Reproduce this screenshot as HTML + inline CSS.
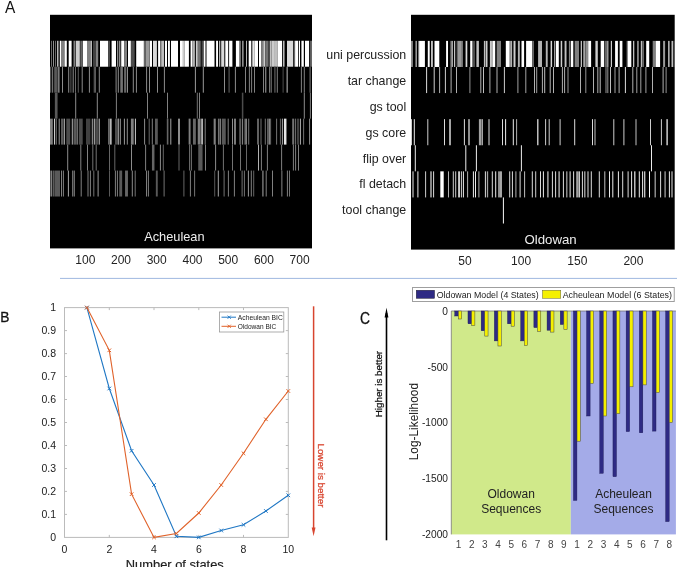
<!DOCTYPE html>
<html><head><meta charset="utf-8"><style>
html,body{margin:0;padding:0;background:#fff;width:685px;height:567px;overflow:hidden;font-family:"Liberation Sans",sans-serif;}
svg{display:block;will-change:transform;filter:blur(0.4px)}
</style></head><body>
<svg width="685" height="567" viewBox="0 0 685 567"><text x="5" y="12.8" font-size="16" font-family="Liberation Sans, sans-serif" fill="#111" textLength="10.3" lengthAdjust="spacingAndGlyphs">A</text>
<rect x="50" y="14.8" width="262" height="233.6" fill="#000"/>
<rect x="411" y="14.8" width="263.70000000000005" height="234.79999999999998" fill="#000"/>
<rect x="51.00" y="40.76" width="0.80" height="25.96" fill="rgb(128,128,128)"/>
<rect x="53.00" y="40.76" width="0.80" height="25.96" fill="rgb(178,178,178)"/>
<rect x="55.00" y="40.76" width="0.80" height="25.96" fill="rgb(128,128,128)"/>
<rect x="57.20" y="40.76" width="1.20" height="25.96" fill="rgb(230,230,230)"/>
<rect x="59.80" y="40.76" width="1.20" height="25.96" fill="rgb(255,255,255)"/>
<rect x="61.00" y="40.76" width="3.00" height="25.96" fill="rgb(128,128,128)"/>
<rect x="64.40" y="40.76" width="2.40" height="25.96" fill="rgb(255,255,255)"/>
<rect x="68.70" y="40.76" width="2.90" height="25.96" fill="rgb(255,255,255)"/>
<rect x="73.50" y="40.76" width="2.00" height="25.96" fill="rgb(128,128,128)"/>
<rect x="76.00" y="40.76" width="3.80" height="25.96" fill="rgb(204,204,204)"/>
<rect x="80.30" y="40.76" width="1.90" height="25.96" fill="rgb(102,102,102)"/>
<rect x="82.70" y="40.76" width="4.30" height="25.96" fill="rgb(255,255,255)"/>
<rect x="87.00" y="40.76" width="3.40" height="25.96" fill="rgb(128,128,128)"/>
<rect x="90.50" y="40.76" width="1.30" height="25.96" fill="rgb(230,230,230)"/>
<rect x="93.50" y="40.76" width="1.00" height="25.96" fill="rgb(128,128,128)"/>
<rect x="95.50" y="40.76" width="2.70" height="25.96" fill="rgb(128,128,128)"/>
<rect x="100.00" y="40.76" width="8.20" height="25.96" fill="rgb(255,255,255)"/>
<rect x="108.20" y="40.76" width="1.80" height="25.96" fill="rgb(76,76,76)"/>
<rect x="111.60" y="40.76" width="4.40" height="25.96" fill="rgb(255,255,255)"/>
<rect x="117.00" y="40.76" width="1.30" height="25.96" fill="rgb(140,140,140)"/>
<rect x="119.30" y="40.76" width="1.00" height="25.96" fill="rgb(204,204,204)"/>
<rect x="121.20" y="40.76" width="2.90" height="25.96" fill="rgb(255,255,255)"/>
<rect x="124.10" y="40.76" width="2.90" height="25.96" fill="rgb(128,128,128)"/>
<rect x="128.00" y="40.76" width="2.90" height="25.96" fill="rgb(255,255,255)"/>
<rect x="130.90" y="40.76" width="3.80" height="25.96" fill="rgb(76,76,76)"/>
<rect x="136.20" y="40.76" width="7.70" height="25.96" fill="rgb(255,255,255)"/>
<rect x="143.90" y="40.76" width="1.90" height="25.96" fill="rgb(102,102,102)"/>
<rect x="145.80" y="40.76" width="3.40" height="25.96" fill="rgb(153,153,153)"/>
<rect x="149.60" y="40.76" width="2.40" height="25.96" fill="rgb(255,255,255)"/>
<rect x="153.00" y="40.76" width="3.90" height="25.96" fill="rgb(217,217,217)"/>
<rect x="158.10" y="40.76" width="2.10" height="25.96" fill="rgb(255,255,255)"/>
<rect x="160.20" y="40.76" width="1.00" height="25.96" fill="rgb(128,128,128)"/>
<rect x="161.20" y="40.76" width="2.90" height="25.96" fill="rgb(191,191,191)"/>
<rect x="165.00" y="40.76" width="2.00" height="25.96" fill="rgb(255,255,255)"/>
<rect x="168.00" y="40.76" width="1.90" height="25.96" fill="rgb(255,255,255)"/>
<rect x="171.00" y="40.76" width="7.00" height="25.96" fill="rgb(255,255,255)"/>
<rect x="180.00" y="40.76" width="2.90" height="25.96" fill="rgb(255,255,255)"/>
<rect x="182.90" y="40.76" width="1.90" height="25.96" fill="rgb(204,204,204)"/>
<rect x="184.80" y="40.76" width="4.10" height="25.96" fill="rgb(255,255,255)"/>
<rect x="190.60" y="40.76" width="1.90" height="25.96" fill="rgb(255,255,255)"/>
<rect x="192.50" y="40.76" width="2.40" height="25.96" fill="rgb(178,178,178)"/>
<rect x="195.90" y="40.76" width="1.90" height="25.96" fill="rgb(204,204,204)"/>
<rect x="197.80" y="40.76" width="2.90" height="25.96" fill="rgb(115,115,115)"/>
<rect x="201.70" y="40.76" width="1.00" height="25.96" fill="rgb(102,102,102)"/>
<rect x="203.60" y="40.76" width="1.90" height="25.96" fill="rgb(255,255,255)"/>
<rect x="206.50" y="40.76" width="8.00" height="25.96" fill="rgb(255,255,255)"/>
<rect x="216.10" y="40.76" width="1.90" height="25.96" fill="rgb(255,255,255)"/>
<rect x="219.00" y="40.76" width="1.30" height="25.96" fill="rgb(178,178,178)"/>
<rect x="221.20" y="40.76" width="3.10" height="25.96" fill="rgb(217,217,217)"/>
<rect x="225.30" y="40.76" width="2.90" height="25.96" fill="rgb(255,255,255)"/>
<rect x="229.10" y="40.76" width="2.90" height="25.96" fill="rgb(255,255,255)"/>
<rect x="232.00" y="40.76" width="0.80" height="25.96" fill="rgb(128,128,128)"/>
<rect x="235.90" y="40.76" width="3.30" height="25.96" fill="rgb(255,255,255)"/>
<rect x="239.20" y="40.76" width="1.50" height="25.96" fill="rgb(153,153,153)"/>
<rect x="242.10" y="40.76" width="1.50" height="25.96" fill="rgb(153,153,153)"/>
<rect x="246.00" y="40.76" width="1.00" height="25.96" fill="rgb(178,178,178)"/>
<rect x="248.70" y="40.76" width="2.60" height="25.96" fill="rgb(255,255,255)"/>
<rect x="252.30" y="40.76" width="2.40" height="25.96" fill="rgb(230,230,230)"/>
<rect x="254.70" y="40.76" width="3.30" height="25.96" fill="rgb(255,255,255)"/>
<rect x="259.00" y="40.76" width="2.40" height="25.96" fill="rgb(255,255,255)"/>
<rect x="261.40" y="40.76" width="1.90" height="25.96" fill="rgb(128,128,128)"/>
<rect x="263.30" y="40.76" width="2.00" height="25.96" fill="rgb(204,204,204)"/>
<rect x="265.30" y="40.76" width="3.30" height="25.96" fill="rgb(115,115,115)"/>
<rect x="269.60" y="40.76" width="1.90" height="25.96" fill="rgb(191,191,191)"/>
<rect x="271.50" y="40.76" width="3.40" height="25.96" fill="rgb(204,204,204)"/>
<rect x="274.90" y="40.76" width="2.90" height="25.96" fill="rgb(191,191,191)"/>
<rect x="277.80" y="40.76" width="4.30" height="25.96" fill="rgb(255,255,255)"/>
<rect x="283.10" y="40.76" width="1.40" height="25.96" fill="rgb(204,204,204)"/>
<rect x="287.00" y="40.76" width="6.20" height="25.96" fill="rgb(217,217,217)"/>
<rect x="294.20" y="40.76" width="0.90" height="25.96" fill="rgb(128,128,128)"/>
<rect x="295.10" y="40.76" width="2.90" height="25.96" fill="rgb(255,255,255)"/>
<rect x="298.80" y="40.76" width="1.20" height="25.96" fill="rgb(255,255,255)"/>
<rect x="301.40" y="40.76" width="2.40" height="25.96" fill="rgb(255,255,255)"/>
<rect x="305.00" y="40.76" width="4.10" height="25.96" fill="rgb(255,255,255)"/>
<rect x="310.10" y="40.76" width="1.90" height="25.96" fill="rgb(102,102,102)"/>
<rect x="50.00" y="66.72" width="0.60" height="25.96" fill="rgb(140,140,140)"/>
<rect x="51.80" y="66.72" width="1.00" height="25.96" fill="rgb(140,140,140)"/>
<rect x="53.80" y="66.72" width="1.00" height="25.96" fill="rgb(89,89,89)"/>
<rect x="55.00" y="66.72" width="1.00" height="25.96" fill="rgb(89,89,89)"/>
<rect x="56.40" y="66.72" width="1.00" height="25.96" fill="rgb(140,140,140)"/>
<rect x="58.05" y="66.72" width="1.50" height="25.96" fill="rgb(128,128,128)"/>
<rect x="62.00" y="66.72" width="1.00" height="25.96" fill="rgb(140,140,140)"/>
<rect x="68.20" y="66.72" width="1.00" height="25.96" fill="rgb(140,140,140)"/>
<rect x="70.40" y="66.72" width="1.00" height="25.96" fill="rgb(89,89,89)"/>
<rect x="72.70" y="66.72" width="1.00" height="25.96" fill="rgb(140,140,140)"/>
<rect x="75.00" y="66.72" width="1.00" height="25.96" fill="rgb(102,102,102)"/>
<rect x="77.80" y="66.72" width="1.00" height="25.96" fill="rgb(89,89,89)"/>
<rect x="81.70" y="66.72" width="1.00" height="25.96" fill="rgb(140,140,140)"/>
<rect x="88.90" y="66.72" width="1.00" height="25.96" fill="rgb(140,140,140)"/>
<rect x="93.70" y="66.72" width="1.00" height="25.96" fill="rgb(89,89,89)"/>
<rect x="94.70" y="66.72" width="1.00" height="25.96" fill="rgb(128,128,128)"/>
<rect x="98.80" y="66.72" width="1.00" height="25.96" fill="rgb(140,140,140)"/>
<rect x="115.60" y="66.72" width="1.00" height="25.96" fill="rgb(140,140,140)"/>
<rect x="117.80" y="66.72" width="1.00" height="25.96" fill="rgb(140,140,140)"/>
<rect x="120.30" y="66.72" width="2.60" height="25.96" fill="rgb(115,115,115)"/>
<rect x="124.10" y="66.72" width="2.20" height="25.96" fill="rgb(102,102,102)"/>
<rect x="127.00" y="66.72" width="1.00" height="25.96" fill="rgb(140,140,140)"/>
<rect x="132.80" y="66.72" width="1.00" height="25.96" fill="rgb(140,140,140)"/>
<rect x="135.90" y="66.72" width="1.00" height="25.96" fill="rgb(140,140,140)"/>
<rect x="146.10" y="66.72" width="1.00" height="25.96" fill="rgb(140,140,140)"/>
<rect x="149.00" y="66.72" width="1.00" height="25.96" fill="rgb(140,140,140)"/>
<rect x="157.00" y="66.72" width="1.00" height="25.96" fill="rgb(140,140,140)"/>
<rect x="163.90" y="66.72" width="1.00" height="25.96" fill="rgb(140,140,140)"/>
<rect x="194.90" y="66.72" width="1.00" height="25.96" fill="rgb(153,153,153)"/>
<rect x="202.80" y="66.72" width="1.00" height="25.96" fill="rgb(153,153,153)"/>
<rect x="224.00" y="66.72" width="1.00" height="25.96" fill="rgb(140,140,140)"/>
<rect x="228.45" y="66.72" width="1.30" height="25.96" fill="rgb(76,76,76)"/>
<rect x="234.90" y="66.72" width="1.00" height="25.96" fill="rgb(140,140,140)"/>
<rect x="245.00" y="66.72" width="1.00" height="25.96" fill="rgb(128,128,128)"/>
<rect x="248.90" y="66.72" width="1.00" height="25.96" fill="rgb(128,128,128)"/>
<rect x="251.10" y="66.72" width="1.00" height="25.96" fill="rgb(128,128,128)"/>
<rect x="254.00" y="66.72" width="1.00" height="25.96" fill="rgb(128,128,128)"/>
<rect x="263.00" y="66.72" width="1.00" height="25.96" fill="rgb(128,128,128)"/>
<rect x="265.05" y="66.72" width="1.30" height="25.96" fill="rgb(128,128,128)"/>
<rect x="269.10" y="66.72" width="1.00" height="25.96" fill="rgb(128,128,128)"/>
<rect x="270.70" y="66.72" width="1.00" height="25.96" fill="rgb(128,128,128)"/>
<rect x="274.15" y="66.72" width="1.50" height="25.96" fill="rgb(76,76,76)"/>
<rect x="276.80" y="66.72" width="1.00" height="25.96" fill="rgb(128,128,128)"/>
<rect x="282.60" y="66.72" width="1.00" height="25.96" fill="rgb(76,76,76)"/>
<rect x="286.45" y="66.72" width="1.50" height="25.96" fill="rgb(128,128,128)"/>
<rect x="300.90" y="66.72" width="1.00" height="25.96" fill="rgb(128,128,128)"/>
<rect x="303.80" y="66.72" width="1.00" height="25.96" fill="rgb(128,128,128)"/>
<rect x="309.60" y="66.72" width="1.00" height="25.96" fill="rgb(128,128,128)"/>
<rect x="54.85" y="92.68" width="2.70" height="25.96" fill="rgb(89,89,89)"/>
<rect x="75.20" y="92.68" width="1.00" height="25.96" fill="rgb(140,140,140)"/>
<rect x="96.80" y="92.68" width="1.00" height="25.96" fill="rgb(140,140,140)"/>
<rect x="115.90" y="92.68" width="1.00" height="25.96" fill="rgb(128,128,128)"/>
<rect x="147.00" y="92.68" width="1.00" height="25.96" fill="rgb(128,128,128)"/>
<rect x="167.00" y="92.68" width="1.00" height="25.96" fill="rgb(128,128,128)"/>
<rect x="196.80" y="92.68" width="1.00" height="25.96" fill="rgb(115,115,115)"/>
<rect x="199.00" y="92.68" width="1.00" height="25.96" fill="rgb(128,128,128)"/>
<rect x="241.85" y="92.68" width="1.50" height="25.96" fill="rgb(76,76,76)"/>
<rect x="303.80" y="92.68" width="1.00" height="25.96" fill="rgb(140,140,140)"/>
<rect x="309.90" y="92.68" width="1.00" height="25.96" fill="rgb(128,128,128)"/>
<rect x="50.00" y="118.64" width="2.80" height="25.96" fill="rgb(128,128,128)"/>
<rect x="54.00" y="118.64" width="1.00" height="25.96" fill="rgb(204,204,204)"/>
<rect x="55.70" y="118.64" width="1.00" height="25.96" fill="rgb(128,128,128)"/>
<rect x="58.70" y="118.64" width="1.00" height="25.96" fill="rgb(153,153,153)"/>
<rect x="61.00" y="118.64" width="2.40" height="25.96" fill="rgb(89,89,89)"/>
<rect x="63.80" y="118.64" width="1.00" height="25.96" fill="rgb(191,191,191)"/>
<rect x="66.30" y="118.64" width="3.90" height="25.96" fill="rgb(76,76,76)"/>
<rect x="71.80" y="118.64" width="1.00" height="25.96" fill="rgb(178,178,178)"/>
<rect x="73.50" y="118.64" width="2.50" height="25.96" fill="rgb(89,89,89)"/>
<rect x="76.60" y="118.64" width="1.00" height="25.96" fill="rgb(178,178,178)"/>
<rect x="78.80" y="118.64" width="3.90" height="25.96" fill="rgb(76,76,76)"/>
<rect x="86.00" y="118.64" width="4.40" height="25.96" fill="rgb(64,64,64)"/>
<rect x="91.80" y="118.64" width="1.00" height="25.96" fill="rgb(166,166,166)"/>
<rect x="93.80" y="118.64" width="1.00" height="25.96" fill="rgb(191,191,191)"/>
<rect x="95.20" y="118.64" width="2.90" height="25.96" fill="rgb(76,76,76)"/>
<rect x="98.60" y="118.64" width="1.40" height="25.96" fill="rgb(140,140,140)"/>
<rect x="108.20" y="118.64" width="1.50" height="25.96" fill="rgb(128,128,128)"/>
<rect x="110.10" y="118.64" width="1.50" height="25.96" fill="rgb(204,204,204)"/>
<rect x="115.00" y="118.64" width="3.80" height="25.96" fill="rgb(76,76,76)"/>
<rect x="118.00" y="118.64" width="1.00" height="25.96" fill="rgb(140,140,140)"/>
<rect x="119.80" y="118.64" width="1.00" height="25.96" fill="rgb(153,153,153)"/>
<rect x="123.90" y="118.64" width="1.00" height="25.96" fill="rgb(153,153,153)"/>
<rect x="126.80" y="118.64" width="1.00" height="25.96" fill="rgb(140,140,140)"/>
<rect x="130.90" y="118.64" width="2.80" height="25.96" fill="rgb(128,128,128)"/>
<rect x="134.90" y="118.64" width="1.00" height="25.96" fill="rgb(204,204,204)"/>
<rect x="144.10" y="118.64" width="1.00" height="25.96" fill="rgb(140,140,140)"/>
<rect x="148.70" y="118.64" width="1.00" height="25.96" fill="rgb(102,102,102)"/>
<rect x="151.80" y="118.64" width="1.00" height="25.96" fill="rgb(128,128,128)"/>
<rect x="155.00" y="118.64" width="2.80" height="25.96" fill="rgb(89,89,89)"/>
<rect x="166.80" y="118.64" width="1.60" height="25.96" fill="rgb(102,102,102)"/>
<rect x="170.30" y="118.64" width="1.00" height="25.96" fill="rgb(166,166,166)"/>
<rect x="178.00" y="118.64" width="2.00" height="25.96" fill="rgb(140,140,140)"/>
<rect x="188.65" y="118.64" width="1.90" height="25.96" fill="rgb(128,128,128)"/>
<rect x="192.95" y="118.64" width="2.90" height="25.96" fill="rgb(102,102,102)"/>
<rect x="197.75" y="118.64" width="2.90" height="25.96" fill="rgb(128,128,128)"/>
<rect x="201.15" y="118.64" width="1.90" height="25.96" fill="rgb(178,178,178)"/>
<rect x="204.70" y="118.64" width="1.00" height="25.96" fill="rgb(128,128,128)"/>
<rect x="213.65" y="118.64" width="2.10" height="25.96" fill="rgb(128,128,128)"/>
<rect x="217.95" y="118.64" width="1.50" height="25.96" fill="rgb(115,115,115)"/>
<rect x="219.80" y="118.64" width="1.00" height="25.96" fill="rgb(153,153,153)"/>
<rect x="221.85" y="118.64" width="3.90" height="25.96" fill="rgb(89,89,89)"/>
<rect x="227.70" y="118.64" width="1.00" height="25.96" fill="rgb(128,128,128)"/>
<rect x="232.00" y="118.64" width="1.00" height="25.96" fill="rgb(140,140,140)"/>
<rect x="234.05" y="118.64" width="1.90" height="25.96" fill="rgb(128,128,128)"/>
<rect x="239.20" y="118.64" width="2.00" height="25.96" fill="rgb(89,89,89)"/>
<rect x="242.10" y="118.64" width="1.00" height="25.96" fill="rgb(140,140,140)"/>
<rect x="244.45" y="118.64" width="1.50" height="25.96" fill="rgb(115,115,115)"/>
<rect x="246.00" y="118.64" width="1.00" height="25.96" fill="rgb(128,128,128)"/>
<rect x="248.20" y="118.64" width="1.00" height="25.96" fill="rgb(115,115,115)"/>
<rect x="257.05" y="118.64" width="1.90" height="25.96" fill="rgb(102,102,102)"/>
<rect x="260.50" y="118.64" width="1.00" height="25.96" fill="rgb(115,115,115)"/>
<rect x="264.80" y="118.64" width="1.00" height="25.96" fill="rgb(115,115,115)"/>
<rect x="267.20" y="118.64" width="1.40" height="25.96" fill="rgb(115,115,115)"/>
<rect x="268.80" y="118.64" width="1.00" height="25.96" fill="rgb(166,166,166)"/>
<rect x="270.10" y="118.64" width="1.00" height="25.96" fill="rgb(102,102,102)"/>
<rect x="276.10" y="118.64" width="1.00" height="25.96" fill="rgb(115,115,115)"/>
<rect x="279.90" y="118.64" width="1.00" height="25.96" fill="rgb(102,102,102)"/>
<rect x="281.90" y="118.64" width="1.00" height="25.96" fill="rgb(166,166,166)"/>
<rect x="283.95" y="118.64" width="2.50" height="25.96" fill="rgb(230,230,230)"/>
<rect x="292.20" y="118.64" width="2.00" height="25.96" fill="rgb(115,115,115)"/>
<rect x="295.10" y="118.64" width="1.00" height="25.96" fill="rgb(115,115,115)"/>
<rect x="297.50" y="118.64" width="1.00" height="25.96" fill="rgb(128,128,128)"/>
<rect x="299.90" y="118.64" width="1.00" height="25.96" fill="rgb(178,178,178)"/>
<rect x="303.10" y="118.64" width="1.00" height="25.96" fill="rgb(115,115,115)"/>
<rect x="309.10" y="118.64" width="1.00" height="25.96" fill="rgb(140,140,140)"/>
<rect x="67.20" y="144.60" width="1.00" height="25.96" fill="rgb(140,140,140)"/>
<rect x="80.30" y="144.60" width="1.00" height="25.96" fill="rgb(128,128,128)"/>
<rect x="87.00" y="144.60" width="1.00" height="25.96" fill="rgb(128,128,128)"/>
<rect x="92.30" y="144.60" width="1.00" height="25.96" fill="rgb(115,115,115)"/>
<rect x="95.70" y="144.60" width="1.00" height="25.96" fill="rgb(115,115,115)"/>
<rect x="109.00" y="144.60" width="1.00" height="25.96" fill="rgb(102,102,102)"/>
<rect x="114.30" y="144.60" width="1.00" height="25.96" fill="rgb(102,102,102)"/>
<rect x="131.00" y="144.60" width="1.00" height="25.96" fill="rgb(140,140,140)"/>
<rect x="145.10" y="144.60" width="1.00" height="25.96" fill="rgb(128,128,128)"/>
<rect x="151.95" y="144.60" width="2.50" height="25.96" fill="rgb(102,102,102)"/>
<rect x="159.90" y="144.60" width="1.00" height="25.96" fill="rgb(140,140,140)"/>
<rect x="162.80" y="144.60" width="1.00" height="25.96" fill="rgb(102,102,102)"/>
<rect x="178.50" y="144.60" width="1.00" height="25.96" fill="rgb(102,102,102)"/>
<rect x="189.10" y="144.60" width="1.00" height="25.96" fill="rgb(115,115,115)"/>
<rect x="190.90" y="144.60" width="1.00" height="25.96" fill="rgb(115,115,115)"/>
<rect x="198.25" y="144.60" width="4.30" height="25.96" fill="rgb(89,89,89)"/>
<rect x="205.00" y="144.60" width="1.00" height="25.96" fill="rgb(128,128,128)"/>
<rect x="215.10" y="144.60" width="1.00" height="25.96" fill="rgb(140,140,140)"/>
<rect x="222.90" y="144.60" width="1.00" height="25.96" fill="rgb(115,115,115)"/>
<rect x="232.00" y="144.60" width="1.00" height="25.96" fill="rgb(115,115,115)"/>
<rect x="240.00" y="144.60" width="1.00" height="25.96" fill="rgb(115,115,115)"/>
<rect x="246.00" y="144.60" width="1.00" height="25.96" fill="rgb(102,102,102)"/>
<rect x="258.00" y="144.60" width="1.00" height="25.96" fill="rgb(178,178,178)"/>
<rect x="260.90" y="144.60" width="1.00" height="25.96" fill="rgb(128,128,128)"/>
<rect x="266.90" y="144.60" width="1.00" height="25.96" fill="rgb(128,128,128)"/>
<rect x="281.10" y="144.60" width="1.00" height="25.96" fill="rgb(128,128,128)"/>
<rect x="292.90" y="144.60" width="1.00" height="25.96" fill="rgb(128,128,128)"/>
<rect x="295.10" y="144.60" width="1.00" height="25.96" fill="rgb(128,128,128)"/>
<rect x="298.00" y="144.60" width="1.00" height="25.96" fill="rgb(128,128,128)"/>
<rect x="50.40" y="170.56" width="1.90" height="25.96" fill="rgb(128,128,128)"/>
<rect x="54.70" y="170.56" width="5.30" height="25.96" fill="rgb(89,89,89)"/>
<rect x="53.30" y="170.56" width="1.00" height="25.96" fill="rgb(128,128,128)"/>
<rect x="61.00" y="170.56" width="1.00" height="25.96" fill="rgb(128,128,128)"/>
<rect x="62.90" y="170.56" width="1.00" height="25.96" fill="rgb(128,128,128)"/>
<rect x="67.90" y="170.56" width="1.00" height="25.96" fill="rgb(166,166,166)"/>
<rect x="72.05" y="170.56" width="1.10" height="25.96" fill="rgb(115,115,115)"/>
<rect x="73.70" y="170.56" width="1.00" height="25.96" fill="rgb(153,153,153)"/>
<rect x="80.70" y="170.56" width="1.00" height="25.96" fill="rgb(128,128,128)"/>
<rect x="87.50" y="170.56" width="1.00" height="25.96" fill="rgb(128,128,128)"/>
<rect x="89.90" y="170.56" width="1.00" height="25.96" fill="rgb(128,128,128)"/>
<rect x="93.30" y="170.56" width="1.00" height="25.96" fill="rgb(115,115,115)"/>
<rect x="97.60" y="170.56" width="1.00" height="25.96" fill="rgb(153,153,153)"/>
<rect x="109.00" y="170.56" width="1.00" height="25.96" fill="rgb(89,89,89)"/>
<rect x="114.90" y="170.56" width="1.00" height="25.96" fill="rgb(128,128,128)"/>
<rect x="116.90" y="170.56" width="1.00" height="25.96" fill="rgb(128,128,128)"/>
<rect x="119.25" y="170.56" width="2.90" height="25.96" fill="rgb(89,89,89)"/>
<rect x="125.05" y="170.56" width="2.90" height="25.96" fill="rgb(102,102,102)"/>
<rect x="131.80" y="170.56" width="1.00" height="25.96" fill="rgb(140,140,140)"/>
<rect x="134.70" y="170.56" width="1.00" height="25.96" fill="rgb(115,115,115)"/>
<rect x="146.10" y="170.56" width="1.00" height="25.96" fill="rgb(140,140,140)"/>
<rect x="148.00" y="170.56" width="1.00" height="25.96" fill="rgb(115,115,115)"/>
<rect x="155.85" y="170.56" width="1.90" height="25.96" fill="rgb(89,89,89)"/>
<rect x="163.60" y="170.56" width="1.00" height="25.96" fill="rgb(115,115,115)"/>
<rect x="183.40" y="170.56" width="1.00" height="25.96" fill="rgb(102,102,102)"/>
<rect x="189.90" y="170.56" width="1.00" height="25.96" fill="rgb(128,128,128)"/>
<rect x="194.10" y="170.56" width="1.00" height="25.96" fill="rgb(115,115,115)"/>
<rect x="214.20" y="170.56" width="1.00" height="25.96" fill="rgb(89,89,89)"/>
<rect x="217.80" y="170.56" width="1.00" height="25.96" fill="rgb(166,166,166)"/>
<rect x="223.60" y="170.56" width="1.00" height="25.96" fill="rgb(115,115,115)"/>
<rect x="227.90" y="170.56" width="1.00" height="25.96" fill="rgb(128,128,128)"/>
<rect x="233.90" y="170.56" width="1.00" height="25.96" fill="rgb(128,128,128)"/>
<rect x="241.60" y="170.56" width="1.00" height="25.96" fill="rgb(115,115,115)"/>
<rect x="243.90" y="170.56" width="1.00" height="25.96" fill="rgb(115,115,115)"/>
<rect x="247.90" y="170.56" width="1.00" height="25.96" fill="rgb(153,153,153)"/>
<rect x="250.80" y="170.56" width="1.00" height="25.96" fill="rgb(128,128,128)"/>
<rect x="253.20" y="170.56" width="1.00" height="25.96" fill="rgb(102,102,102)"/>
<rect x="262.15" y="170.56" width="1.50" height="25.96" fill="rgb(115,115,115)"/>
<rect x="265.70" y="170.56" width="1.00" height="25.96" fill="rgb(128,128,128)"/>
<rect x="272.00" y="170.56" width="1.00" height="25.96" fill="rgb(128,128,128)"/>
<rect x="281.05" y="170.56" width="1.50" height="25.96" fill="rgb(89,89,89)"/>
<rect x="286.90" y="170.56" width="1.00" height="25.96" fill="rgb(128,128,128)"/>
<rect x="289.00" y="170.56" width="1.00" height="25.96" fill="rgb(115,115,115)"/>
<rect x="411.00" y="40.89" width="1.90" height="26.09" fill="rgb(140,140,140)"/>
<rect x="415.60" y="40.89" width="1.10" height="26.09" fill="rgb(217,217,217)"/>
<rect x="418.20" y="40.89" width="0.90" height="26.09" fill="rgb(153,153,153)"/>
<rect x="419.10" y="40.89" width="5.80" height="26.09" fill="rgb(255,255,255)"/>
<rect x="427.80" y="40.89" width="1.90" height="26.09" fill="rgb(255,255,255)"/>
<rect x="431.00" y="40.89" width="1.90" height="26.09" fill="rgb(191,191,191)"/>
<rect x="434.50" y="40.89" width="4.80" height="26.09" fill="rgb(255,255,255)"/>
<rect x="446.10" y="40.89" width="1.90" height="26.09" fill="rgb(255,255,255)"/>
<rect x="450.40" y="40.89" width="0.80" height="26.09" fill="rgb(128,128,128)"/>
<rect x="451.40" y="40.89" width="1.40" height="26.09" fill="rgb(204,204,204)"/>
<rect x="454.10" y="40.89" width="1.10" height="26.09" fill="rgb(217,217,217)"/>
<rect x="456.70" y="40.89" width="0.90" height="26.09" fill="rgb(128,128,128)"/>
<rect x="457.60" y="40.89" width="3.40" height="26.09" fill="rgb(153,153,153)"/>
<rect x="461.00" y="40.89" width="1.90" height="26.09" fill="rgb(128,128,128)"/>
<rect x="465.60" y="40.89" width="1.70" height="26.09" fill="rgb(217,217,217)"/>
<rect x="470.20" y="40.89" width="2.40" height="26.09" fill="rgb(255,255,255)"/>
<rect x="472.60" y="40.89" width="2.40" height="26.09" fill="rgb(76,76,76)"/>
<rect x="476.40" y="40.89" width="2.50" height="26.09" fill="rgb(191,191,191)"/>
<rect x="483.90" y="40.89" width="1.20" height="26.09" fill="rgb(191,191,191)"/>
<rect x="485.60" y="40.89" width="1.90" height="26.09" fill="rgb(204,204,204)"/>
<rect x="489.90" y="40.89" width="2.00" height="26.09" fill="rgb(204,204,204)"/>
<rect x="492.30" y="40.89" width="2.90" height="26.09" fill="rgb(255,255,255)"/>
<rect x="496.70" y="40.89" width="4.30" height="26.09" fill="rgb(128,128,128)"/>
<rect x="505.80" y="40.89" width="3.90" height="26.09" fill="rgb(255,255,255)"/>
<rect x="510.20" y="40.89" width="1.90" height="26.09" fill="rgb(178,178,178)"/>
<rect x="513.50" y="40.89" width="2.00" height="26.09" fill="rgb(204,204,204)"/>
<rect x="517.90" y="40.89" width="1.90" height="26.09" fill="rgb(178,178,178)"/>
<rect x="521.50" y="40.89" width="2.60" height="26.09" fill="rgb(255,255,255)"/>
<rect x="526.10" y="40.89" width="6.20" height="26.09" fill="rgb(255,255,255)"/>
<rect x="532.60" y="40.89" width="1.20" height="26.09" fill="rgb(128,128,128)"/>
<rect x="538.10" y="40.89" width="2.90" height="26.09" fill="rgb(178,178,178)"/>
<rect x="541.00" y="40.89" width="1.00" height="26.09" fill="rgb(178,178,178)"/>
<rect x="545.80" y="40.89" width="1.90" height="26.09" fill="rgb(178,178,178)"/>
<rect x="550.60" y="40.89" width="1.50" height="26.09" fill="rgb(217,217,217)"/>
<rect x="554.00" y="40.89" width="1.40" height="26.09" fill="rgb(153,153,153)"/>
<rect x="556.00" y="40.89" width="2.80" height="26.09" fill="rgb(255,255,255)"/>
<rect x="560.70" y="40.89" width="1.50" height="26.09" fill="rgb(204,204,204)"/>
<rect x="564.60" y="40.89" width="1.90" height="26.09" fill="rgb(191,191,191)"/>
<rect x="568.90" y="40.89" width="1.50" height="26.09" fill="rgb(128,128,128)"/>
<rect x="570.90" y="40.89" width="2.40" height="26.09" fill="rgb(255,255,255)"/>
<rect x="574.70" y="40.89" width="4.30" height="26.09" fill="rgb(128,128,128)"/>
<rect x="580.70" y="40.89" width="1.30" height="26.09" fill="rgb(191,191,191)"/>
<rect x="583.40" y="40.89" width="1.40" height="26.09" fill="rgb(204,204,204)"/>
<rect x="585.30" y="40.89" width="2.90" height="26.09" fill="rgb(140,140,140)"/>
<rect x="588.20" y="40.89" width="2.90" height="26.09" fill="rgb(255,255,255)"/>
<rect x="595.40" y="40.89" width="2.40" height="26.09" fill="rgb(204,204,204)"/>
<rect x="600.70" y="40.89" width="3.40" height="26.09" fill="rgb(255,255,255)"/>
<rect x="604.60" y="40.89" width="2.40" height="26.09" fill="rgb(102,102,102)"/>
<rect x="607.00" y="40.89" width="1.50" height="26.09" fill="rgb(153,153,153)"/>
<rect x="610.80" y="40.89" width="1.20" height="26.09" fill="rgb(204,204,204)"/>
<rect x="615.10" y="40.89" width="2.80" height="26.09" fill="rgb(255,255,255)"/>
<rect x="619.70" y="40.89" width="2.70" height="26.09" fill="rgb(255,255,255)"/>
<rect x="626.70" y="40.89" width="1.20" height="26.09" fill="rgb(153,153,153)"/>
<rect x="628.00" y="40.89" width="3.30" height="26.09" fill="rgb(255,255,255)"/>
<rect x="633.00" y="40.89" width="1.30" height="26.09" fill="rgb(191,191,191)"/>
<rect x="637.30" y="40.89" width="1.30" height="26.09" fill="rgb(191,191,191)"/>
<rect x="640.80" y="40.89" width="1.20" height="26.09" fill="rgb(191,191,191)"/>
<rect x="642.30" y="40.89" width="1.50" height="26.09" fill="rgb(128,128,128)"/>
<rect x="646.20" y="40.89" width="3.00" height="26.09" fill="rgb(255,255,255)"/>
<rect x="652.70" y="40.89" width="3.00" height="26.09" fill="rgb(128,128,128)"/>
<rect x="655.70" y="40.89" width="4.40" height="26.09" fill="rgb(255,255,255)"/>
<rect x="663.10" y="40.89" width="2.00" height="26.09" fill="rgb(153,153,153)"/>
<rect x="668.10" y="40.89" width="1.50" height="26.09" fill="rgb(191,191,191)"/>
<rect x="671.50" y="40.89" width="1.50" height="26.09" fill="rgb(191,191,191)"/>
<rect x="673.50" y="40.89" width="1.20" height="26.09" fill="rgb(102,102,102)"/>
<rect x="426.10" y="66.98" width="1.00" height="26.09" fill="rgb(220,220,220)"/>
<rect x="433.70" y="66.98" width="1.00" height="26.09" fill="rgb(205,205,205)"/>
<rect x="439.10" y="66.98" width="1.00" height="26.09" fill="rgb(176,176,176)"/>
<rect x="444.90" y="66.98" width="1.00" height="26.09" fill="rgb(205,205,205)"/>
<rect x="450.60" y="66.98" width="1.00" height="26.09" fill="rgb(176,176,176)"/>
<rect x="456.00" y="66.98" width="1.00" height="26.09" fill="rgb(176,176,176)"/>
<rect x="469.40" y="66.98" width="1.00" height="26.09" fill="rgb(147,147,147)"/>
<rect x="480.30" y="66.98" width="1.00" height="26.09" fill="rgb(176,176,176)"/>
<rect x="483.00" y="66.98" width="1.00" height="26.09" fill="rgb(191,191,191)"/>
<rect x="489.40" y="66.98" width="1.00" height="26.09" fill="rgb(176,176,176)"/>
<rect x="496.50" y="66.98" width="1.00" height="26.09" fill="rgb(176,176,176)"/>
<rect x="503.90" y="66.98" width="1.00" height="26.09" fill="rgb(205,205,205)"/>
<rect x="517.40" y="66.98" width="1.00" height="26.09" fill="rgb(161,161,161)"/>
<rect x="525.30" y="66.98" width="1.00" height="26.09" fill="rgb(161,161,161)"/>
<rect x="534.00" y="66.98" width="1.00" height="26.09" fill="rgb(176,176,176)"/>
<rect x="536.20" y="66.98" width="1.00" height="26.09" fill="rgb(161,161,161)"/>
<rect x="541.90" y="66.98" width="1.00" height="26.09" fill="rgb(176,176,176)"/>
<rect x="544.20" y="66.98" width="1.00" height="26.09" fill="rgb(191,191,191)"/>
<rect x="549.70" y="66.98" width="1.00" height="26.09" fill="rgb(176,176,176)"/>
<rect x="553.00" y="66.98" width="1.00" height="26.09" fill="rgb(176,176,176)"/>
<rect x="561.90" y="66.98" width="1.00" height="26.09" fill="rgb(176,176,176)"/>
<rect x="564.10" y="66.98" width="1.00" height="26.09" fill="rgb(176,176,176)"/>
<rect x="567.50" y="66.98" width="1.00" height="26.09" fill="rgb(147,147,147)"/>
<rect x="580.00" y="66.98" width="1.00" height="26.09" fill="rgb(176,176,176)"/>
<rect x="585.30" y="66.98" width="1.00" height="26.09" fill="rgb(147,147,147)"/>
<rect x="593.00" y="66.98" width="1.00" height="26.09" fill="rgb(176,176,176)"/>
<rect x="597.30" y="66.98" width="1.00" height="26.09" fill="rgb(176,176,176)"/>
<rect x="599.70" y="66.98" width="1.00" height="26.09" fill="rgb(191,191,191)"/>
<rect x="605.50" y="66.98" width="1.00" height="26.09" fill="rgb(147,147,147)"/>
<rect x="607.30" y="66.98" width="1.00" height="26.09" fill="rgb(147,147,147)"/>
<rect x="610.00" y="66.98" width="1.00" height="26.09" fill="rgb(191,191,191)"/>
<rect x="614.50" y="66.98" width="1.00" height="26.09" fill="rgb(161,161,161)"/>
<rect x="618.60" y="66.98" width="1.00" height="26.09" fill="rgb(176,176,176)"/>
<rect x="624.90" y="66.98" width="1.00" height="26.09" fill="rgb(220,220,220)"/>
<rect x="632.30" y="66.98" width="1.00" height="26.09" fill="rgb(176,176,176)"/>
<rect x="636.30" y="66.98" width="1.00" height="26.09" fill="rgb(161,161,161)"/>
<rect x="640.30" y="66.98" width="1.00" height="26.09" fill="rgb(161,161,161)"/>
<rect x="645.40" y="66.98" width="1.00" height="26.09" fill="rgb(161,161,161)"/>
<rect x="652.00" y="66.98" width="1.00" height="26.09" fill="rgb(176,176,176)"/>
<rect x="662.60" y="66.98" width="1.00" height="26.09" fill="rgb(176,176,176)"/>
<rect x="665.60" y="66.98" width="1.00" height="26.09" fill="rgb(147,147,147)"/>
<rect x="411.00" y="119.16" width="1.00" height="26.09" fill="rgb(205,205,205)"/>
<rect x="413.80" y="119.16" width="1.00" height="26.09" fill="rgb(235,235,235)"/>
<rect x="427.30" y="119.16" width="1.00" height="26.09" fill="rgb(205,205,205)"/>
<rect x="444.00" y="119.16" width="1.00" height="26.09" fill="rgb(220,220,220)"/>
<rect x="449.30" y="119.16" width="1.40" height="26.09" fill="rgb(235,235,235)"/>
<rect x="463.90" y="119.16" width="1.00" height="26.09" fill="rgb(220,220,220)"/>
<rect x="468.35" y="119.16" width="1.30" height="26.09" fill="rgb(220,220,220)"/>
<rect x="478.90" y="119.16" width="2.40" height="26.09" fill="rgb(161,161,161)"/>
<rect x="481.70" y="119.16" width="1.00" height="26.09" fill="rgb(235,235,235)"/>
<rect x="488.35" y="119.16" width="1.30" height="26.09" fill="rgb(176,176,176)"/>
<rect x="502.00" y="119.16" width="1.00" height="26.09" fill="rgb(220,220,220)"/>
<rect x="505.10" y="119.16" width="1.00" height="26.09" fill="rgb(235,235,235)"/>
<rect x="512.80" y="119.16" width="1.00" height="26.09" fill="rgb(235,235,235)"/>
<rect x="516.10" y="119.16" width="1.00" height="26.09" fill="rgb(176,176,176)"/>
<rect x="537.15" y="119.16" width="1.30" height="26.09" fill="rgb(220,220,220)"/>
<rect x="545.10" y="119.16" width="1.00" height="26.09" fill="rgb(205,205,205)"/>
<rect x="548.70" y="119.16" width="1.00" height="26.09" fill="rgb(205,205,205)"/>
<rect x="559.60" y="119.16" width="1.00" height="26.09" fill="rgb(205,205,205)"/>
<rect x="574.20" y="119.16" width="1.00" height="26.09" fill="rgb(220,220,220)"/>
<rect x="592.00" y="119.16" width="1.00" height="26.09" fill="rgb(220,220,220)"/>
<rect x="594.50" y="119.16" width="1.00" height="26.09" fill="rgb(191,191,191)"/>
<rect x="613.30" y="119.16" width="1.00" height="26.09" fill="rgb(205,205,205)"/>
<rect x="623.40" y="119.16" width="1.00" height="26.09" fill="rgb(205,205,205)"/>
<rect x="635.50" y="119.16" width="1.00" height="26.09" fill="rgb(191,191,191)"/>
<rect x="650.00" y="119.16" width="1.00" height="26.09" fill="rgb(205,205,205)"/>
<rect x="660.90" y="119.16" width="1.00" height="26.09" fill="rgb(205,205,205)"/>
<rect x="666.45" y="119.16" width="1.30" height="26.09" fill="rgb(235,235,235)"/>
<rect x="414.80" y="145.25" width="1.00" height="26.09" fill="rgb(235,235,235)"/>
<rect x="465.30" y="145.25" width="1.00" height="26.09" fill="rgb(235,235,235)"/>
<rect x="475.90" y="145.25" width="1.00" height="26.09" fill="rgb(235,235,235)"/>
<rect x="520.90" y="145.25" width="1.00" height="26.09" fill="rgb(235,235,235)"/>
<rect x="651.00" y="145.25" width="1.00" height="26.09" fill="rgb(235,235,235)"/>
<rect x="412.50" y="171.34" width="1.00" height="26.09" fill="rgb(235,235,235)"/>
<rect x="417.40" y="171.34" width="1.00" height="26.09" fill="rgb(235,235,235)"/>
<rect x="425.10" y="171.34" width="1.00" height="26.09" fill="rgb(205,205,205)"/>
<rect x="430.35" y="171.34" width="1.30" height="26.09" fill="rgb(205,205,205)"/>
<rect x="433.10" y="171.34" width="1.00" height="26.09" fill="rgb(220,220,220)"/>
<rect x="440.30" y="171.34" width="3.40" height="26.09" fill="rgb(255,255,255)"/>
<rect x="448.00" y="171.34" width="1.00" height="26.09" fill="rgb(176,176,176)"/>
<rect x="452.80" y="171.34" width="1.00" height="26.09" fill="rgb(205,205,205)"/>
<rect x="455.20" y="171.34" width="1.00" height="26.09" fill="rgb(205,205,205)"/>
<rect x="458.10" y="171.34" width="2.00" height="26.09" fill="rgb(205,205,205)"/>
<rect x="461.00" y="171.34" width="1.00" height="26.09" fill="rgb(191,191,191)"/>
<rect x="462.90" y="171.34" width="1.00" height="26.09" fill="rgb(235,235,235)"/>
<rect x="467.10" y="171.34" width="1.00" height="26.09" fill="rgb(176,176,176)"/>
<rect x="472.90" y="171.34" width="1.00" height="26.09" fill="rgb(235,235,235)"/>
<rect x="475.00" y="171.34" width="1.00" height="26.09" fill="rgb(235,235,235)"/>
<rect x="478.40" y="171.34" width="1.00" height="26.09" fill="rgb(176,176,176)"/>
<rect x="484.90" y="171.34" width="1.00" height="26.09" fill="rgb(220,220,220)"/>
<rect x="486.85" y="171.34" width="1.30" height="26.09" fill="rgb(161,161,161)"/>
<rect x="491.80" y="171.34" width="1.00" height="26.09" fill="rgb(220,220,220)"/>
<rect x="495.20" y="171.34" width="1.00" height="26.09" fill="rgb(235,235,235)"/>
<rect x="498.05" y="171.34" width="2.90" height="26.09" fill="rgb(147,147,147)"/>
<rect x="500.70" y="171.34" width="1.00" height="26.09" fill="rgb(235,235,235)"/>
<rect x="509.20" y="171.34" width="1.00" height="26.09" fill="rgb(220,220,220)"/>
<rect x="511.90" y="171.34" width="1.00" height="26.09" fill="rgb(220,220,220)"/>
<rect x="515.40" y="171.34" width="1.00" height="26.09" fill="rgb(176,176,176)"/>
<rect x="519.60" y="171.34" width="1.00" height="26.09" fill="rgb(220,220,220)"/>
<rect x="524.10" y="171.34" width="1.00" height="26.09" fill="rgb(191,191,191)"/>
<rect x="531.80" y="171.34" width="1.00" height="26.09" fill="rgb(220,220,220)"/>
<rect x="535.20" y="171.34" width="1.00" height="26.09" fill="rgb(205,205,205)"/>
<rect x="540.00" y="171.34" width="1.00" height="26.09" fill="rgb(220,220,220)"/>
<rect x="542.90" y="171.34" width="1.00" height="26.09" fill="rgb(235,235,235)"/>
<rect x="547.25" y="171.34" width="1.30" height="26.09" fill="rgb(191,191,191)"/>
<rect x="551.90" y="171.34" width="1.00" height="26.09" fill="rgb(220,220,220)"/>
<rect x="555.10" y="171.34" width="1.00" height="26.09" fill="rgb(220,220,220)"/>
<rect x="558.45" y="171.34" width="1.30" height="26.09" fill="rgb(191,191,191)"/>
<rect x="562.90" y="171.34" width="1.00" height="26.09" fill="rgb(220,220,220)"/>
<rect x="566.15" y="171.34" width="1.30" height="26.09" fill="rgb(161,161,161)"/>
<rect x="569.60" y="171.34" width="1.00" height="26.09" fill="rgb(235,235,235)"/>
<rect x="573.10" y="171.34" width="1.00" height="26.09" fill="rgb(220,220,220)"/>
<rect x="576.20" y="171.34" width="2.40" height="26.09" fill="rgb(161,161,161)"/>
<rect x="578.80" y="171.34" width="1.00" height="26.09" fill="rgb(249,249,249)"/>
<rect x="581.90" y="171.34" width="1.00" height="26.09" fill="rgb(220,220,220)"/>
<rect x="584.15" y="171.34" width="1.30" height="26.09" fill="rgb(176,176,176)"/>
<rect x="587.35" y="171.34" width="1.30" height="26.09" fill="rgb(176,176,176)"/>
<rect x="590.80" y="171.34" width="1.00" height="26.09" fill="rgb(220,220,220)"/>
<rect x="598.80" y="171.34" width="1.00" height="26.09" fill="rgb(220,220,220)"/>
<rect x="604.30" y="171.34" width="1.00" height="26.09" fill="rgb(191,191,191)"/>
<rect x="609.00" y="171.34" width="1.00" height="26.09" fill="rgb(235,235,235)"/>
<rect x="612.30" y="171.34" width="1.00" height="26.09" fill="rgb(235,235,235)"/>
<rect x="617.90" y="171.34" width="1.00" height="26.09" fill="rgb(235,235,235)"/>
<rect x="622.20" y="171.34" width="1.00" height="26.09" fill="rgb(220,220,220)"/>
<rect x="627.60" y="171.34" width="1.00" height="26.09" fill="rgb(220,220,220)"/>
<rect x="631.10" y="171.34" width="1.00" height="26.09" fill="rgb(235,235,235)"/>
<rect x="634.15" y="171.34" width="1.30" height="26.09" fill="rgb(220,220,220)"/>
<rect x="638.80" y="171.34" width="1.00" height="26.09" fill="rgb(235,235,235)"/>
<rect x="642.10" y="171.34" width="1.00" height="26.09" fill="rgb(235,235,235)"/>
<rect x="644.05" y="171.34" width="1.30" height="26.09" fill="rgb(205,205,205)"/>
<rect x="649.00" y="171.34" width="1.00" height="26.09" fill="rgb(249,249,249)"/>
<rect x="654.55" y="171.34" width="1.30" height="26.09" fill="rgb(161,161,161)"/>
<rect x="660.10" y="171.34" width="1.00" height="26.09" fill="rgb(220,220,220)"/>
<rect x="664.45" y="171.34" width="1.30" height="26.09" fill="rgb(161,161,161)"/>
<rect x="668.90" y="171.34" width="1.00" height="26.09" fill="rgb(235,235,235)"/>
<rect x="671.50" y="171.34" width="1.00" height="26.09" fill="rgb(235,235,235)"/>
<rect x="502.90" y="197.43" width="1.00" height="26.09" fill="rgb(249,249,249)"/>
<text x="144.2" y="241.3" font-size="12.8" font-family="Liberation Sans, sans-serif" fill="#eee" textLength="60.4" lengthAdjust="spacingAndGlyphs">Acheulean</text>
<text x="524.5" y="243.9" font-size="13" font-family="Liberation Sans, sans-serif" fill="#eee" textLength="52.2" lengthAdjust="spacingAndGlyphs">Oldowan</text>
<text x="406.2" y="58.7" font-size="12.4" font-family="Liberation Sans, sans-serif" fill="#222" text-anchor="end">uni percussion</text>
<text x="406.2" y="84.7" font-size="12.4" font-family="Liberation Sans, sans-serif" fill="#222" text-anchor="end">tar change</text>
<text x="406.2" y="110.6" font-size="12.4" font-family="Liberation Sans, sans-serif" fill="#222" text-anchor="end">gs tool</text>
<text x="406.2" y="136.6" font-size="12.4" font-family="Liberation Sans, sans-serif" fill="#222" text-anchor="end">gs core</text>
<text x="406.2" y="162.5" font-size="12.4" font-family="Liberation Sans, sans-serif" fill="#222" text-anchor="end">flip over</text>
<text x="406.2" y="188.4" font-size="12.4" font-family="Liberation Sans, sans-serif" fill="#222" text-anchor="end">fl detach</text>
<text x="406.2" y="214.4" font-size="12.4" font-family="Liberation Sans, sans-serif" fill="#222" text-anchor="end">tool change</text>
<text x="85.3" y="264" font-size="12" font-family="Liberation Sans, sans-serif" fill="#222" text-anchor="middle">100</text>
<text x="121.0" y="264" font-size="12" font-family="Liberation Sans, sans-serif" fill="#222" text-anchor="middle">200</text>
<text x="156.7" y="264" font-size="12" font-family="Liberation Sans, sans-serif" fill="#222" text-anchor="middle">300</text>
<text x="192.5" y="264" font-size="12" font-family="Liberation Sans, sans-serif" fill="#222" text-anchor="middle">400</text>
<text x="228.2" y="264" font-size="12" font-family="Liberation Sans, sans-serif" fill="#222" text-anchor="middle">500</text>
<text x="263.9" y="264" font-size="12" font-family="Liberation Sans, sans-serif" fill="#222" text-anchor="middle">600</text>
<text x="299.6" y="264" font-size="12" font-family="Liberation Sans, sans-serif" fill="#222" text-anchor="middle">700</text>
<text x="465.0" y="265" font-size="12" font-family="Liberation Sans, sans-serif" fill="#222" text-anchor="middle">50</text>
<text x="521.1" y="265" font-size="12" font-family="Liberation Sans, sans-serif" fill="#222" text-anchor="middle">100</text>
<text x="577.3" y="265" font-size="12" font-family="Liberation Sans, sans-serif" fill="#222" text-anchor="middle">150</text>
<text x="633.4" y="265" font-size="12" font-family="Liberation Sans, sans-serif" fill="#222" text-anchor="middle">200</text>
<line x1="60" y1="278.4" x2="677" y2="278.4" stroke="#9fb8e0" stroke-width="1"/>
<text x="0.2" y="321.7" font-size="14.9" font-family="Liberation Sans, sans-serif" fill="#111" stroke="#111" stroke-width="0.3" textLength="9.2" lengthAdjust="spacingAndGlyphs">B</text>
<rect x="64.5" y="307.6" width="223.8" height="229.79999999999995" fill="none" stroke="#bbb" stroke-width="1"/>
<line x1="64.5" y1="514.4" x2="67.0" y2="514.4" stroke="#bbb"/>
<line x1="288.3" y1="514.4" x2="285.8" y2="514.4" stroke="#bbb"/>
<line x1="64.5" y1="491.4" x2="67.0" y2="491.4" stroke="#bbb"/>
<line x1="288.3" y1="491.4" x2="285.8" y2="491.4" stroke="#bbb"/>
<line x1="64.5" y1="468.5" x2="67.0" y2="468.5" stroke="#bbb"/>
<line x1="288.3" y1="468.5" x2="285.8" y2="468.5" stroke="#bbb"/>
<line x1="64.5" y1="445.5" x2="67.0" y2="445.5" stroke="#bbb"/>
<line x1="288.3" y1="445.5" x2="285.8" y2="445.5" stroke="#bbb"/>
<line x1="64.5" y1="422.5" x2="67.0" y2="422.5" stroke="#bbb"/>
<line x1="288.3" y1="422.5" x2="285.8" y2="422.5" stroke="#bbb"/>
<line x1="64.5" y1="399.5" x2="67.0" y2="399.5" stroke="#bbb"/>
<line x1="288.3" y1="399.5" x2="285.8" y2="399.5" stroke="#bbb"/>
<line x1="64.5" y1="376.5" x2="67.0" y2="376.5" stroke="#bbb"/>
<line x1="288.3" y1="376.5" x2="285.8" y2="376.5" stroke="#bbb"/>
<line x1="64.5" y1="353.6" x2="67.0" y2="353.6" stroke="#bbb"/>
<line x1="288.3" y1="353.6" x2="285.8" y2="353.6" stroke="#bbb"/>
<line x1="64.5" y1="330.6" x2="67.0" y2="330.6" stroke="#bbb"/>
<line x1="288.3" y1="330.6" x2="285.8" y2="330.6" stroke="#bbb"/>
<line x1="109.3" y1="537.4" x2="109.3" y2="534.9" stroke="#bbb"/>
<line x1="109.3" y1="307.6" x2="109.3" y2="310.1" stroke="#bbb"/>
<line x1="154.0" y1="537.4" x2="154.0" y2="534.9" stroke="#bbb"/>
<line x1="154.0" y1="307.6" x2="154.0" y2="310.1" stroke="#bbb"/>
<line x1="198.8" y1="537.4" x2="198.8" y2="534.9" stroke="#bbb"/>
<line x1="198.8" y1="307.6" x2="198.8" y2="310.1" stroke="#bbb"/>
<line x1="243.5" y1="537.4" x2="243.5" y2="534.9" stroke="#bbb"/>
<line x1="243.5" y1="307.6" x2="243.5" y2="310.1" stroke="#bbb"/>
<text x="56" y="541.1" font-size="10.5" font-family="Liberation Sans, sans-serif" fill="#222" text-anchor="end">0</text>
<text x="56" y="518.1" font-size="10.5" font-family="Liberation Sans, sans-serif" fill="#222" text-anchor="end">0.1</text>
<text x="56" y="495.1" font-size="10.5" font-family="Liberation Sans, sans-serif" fill="#222" text-anchor="end">0.2</text>
<text x="56" y="472.2" font-size="10.5" font-family="Liberation Sans, sans-serif" fill="#222" text-anchor="end">0.3</text>
<text x="56" y="449.2" font-size="10.5" font-family="Liberation Sans, sans-serif" fill="#222" text-anchor="end">0.4</text>
<text x="56" y="426.2" font-size="10.5" font-family="Liberation Sans, sans-serif" fill="#222" text-anchor="end">0.5</text>
<text x="56" y="403.2" font-size="10.5" font-family="Liberation Sans, sans-serif" fill="#222" text-anchor="end">0.6</text>
<text x="56" y="380.2" font-size="10.5" font-family="Liberation Sans, sans-serif" fill="#222" text-anchor="end">0.7</text>
<text x="56" y="357.3" font-size="10.5" font-family="Liberation Sans, sans-serif" fill="#222" text-anchor="end">0.8</text>
<text x="56" y="334.3" font-size="10.5" font-family="Liberation Sans, sans-serif" fill="#222" text-anchor="end">0.9</text>
<text x="56" y="311.3" font-size="10.5" font-family="Liberation Sans, sans-serif" fill="#222" text-anchor="end">1</text>
<text x="64.5" y="552.6" font-size="10.5" font-family="Liberation Sans, sans-serif" fill="#222" text-anchor="middle">0</text>
<text x="109.3" y="552.6" font-size="10.5" font-family="Liberation Sans, sans-serif" fill="#222" text-anchor="middle">2</text>
<text x="154.0" y="552.6" font-size="10.5" font-family="Liberation Sans, sans-serif" fill="#222" text-anchor="middle">4</text>
<text x="198.8" y="552.6" font-size="10.5" font-family="Liberation Sans, sans-serif" fill="#222" text-anchor="middle">6</text>
<text x="243.5" y="552.6" font-size="10.5" font-family="Liberation Sans, sans-serif" fill="#222" text-anchor="middle">8</text>
<text x="288.3" y="552.6" font-size="10.5" font-family="Liberation Sans, sans-serif" fill="#222" text-anchor="middle">10</text>
<text x="125.8" y="568.9" font-size="13.5" font-family="Liberation Sans, sans-serif" fill="#222" stroke="#222" stroke-width="0.2" textLength="98" lengthAdjust="spacingAndGlyphs">Number of states</text>
<polyline points="86.9,307.6 109.3,388.5 131.6,450.8 154.0,485.0 176.4,536.3 198.8,537.4 221.2,530.5 243.5,524.8 265.9,511.0 288.3,495.3" fill="none" stroke="#1f77c4" stroke-width="1.1"/>
<path d="M85.1,305.8L88.7,309.4M85.1,309.4L88.7,305.8" stroke="#1f77c4" stroke-width="1"/>
<path d="M107.5,386.7L111.1,390.3M107.5,390.3L111.1,386.7" stroke="#1f77c4" stroke-width="1"/>
<path d="M129.8,449.0L133.4,452.6M129.8,452.6L133.4,449.0" stroke="#1f77c4" stroke-width="1"/>
<path d="M152.2,483.2L155.8,486.8M152.2,486.8L155.8,483.2" stroke="#1f77c4" stroke-width="1"/>
<path d="M174.6,534.5L178.2,538.1M174.6,538.1L178.2,534.5" stroke="#1f77c4" stroke-width="1"/>
<path d="M197.0,535.6L200.6,539.2M197.0,539.2L200.6,535.6" stroke="#1f77c4" stroke-width="1"/>
<path d="M219.4,528.7L223.0,532.3M219.4,532.3L223.0,528.7" stroke="#1f77c4" stroke-width="1"/>
<path d="M241.7,523.0L245.3,526.6M241.7,526.6L245.3,523.0" stroke="#1f77c4" stroke-width="1"/>
<path d="M264.1,509.2L267.7,512.8M264.1,512.8L267.7,509.2" stroke="#1f77c4" stroke-width="1"/>
<path d="M286.5,493.5L290.1,497.1M286.5,497.1L290.1,493.5" stroke="#1f77c4" stroke-width="1"/>
<polyline points="86.9,307.6 109.3,350.3 131.6,494.2 154.0,537.4 176.4,533.5 198.8,513.0 221.2,485.0 243.5,453.3 265.9,419.3 288.3,391.0" fill="none" stroke="#e0622a" stroke-width="1.1"/>
<path d="M85.1,305.8L88.7,309.4M85.1,309.4L88.7,305.8" stroke="#e0622a" stroke-width="1"/>
<path d="M107.5,348.5L111.1,352.1M107.5,352.1L111.1,348.5" stroke="#e0622a" stroke-width="1"/>
<path d="M129.8,492.4L133.4,496.0M129.8,496.0L133.4,492.4" stroke="#e0622a" stroke-width="1"/>
<path d="M152.2,535.6L155.8,539.2M152.2,539.2L155.8,535.6" stroke="#e0622a" stroke-width="1"/>
<path d="M174.6,531.7L178.2,535.3M174.6,535.3L178.2,531.7" stroke="#e0622a" stroke-width="1"/>
<path d="M197.0,511.2L200.6,514.8M197.0,514.8L200.6,511.2" stroke="#e0622a" stroke-width="1"/>
<path d="M219.4,483.2L223.0,486.8M219.4,486.8L223.0,483.2" stroke="#e0622a" stroke-width="1"/>
<path d="M241.7,451.5L245.3,455.1M241.7,455.1L245.3,451.5" stroke="#e0622a" stroke-width="1"/>
<path d="M264.1,417.5L267.7,421.1M264.1,421.1L267.7,417.5" stroke="#e0622a" stroke-width="1"/>
<path d="M286.5,389.2L290.1,392.8M286.5,392.8L290.1,389.2" stroke="#e0622a" stroke-width="1"/>
<rect x="219.4" y="312" width="64.4" height="20" fill="#fff" stroke="#999" stroke-width="0.8"/>
<line x1="221.5" y1="317.2" x2="236" y2="317.2" stroke="#1f77c4" stroke-width="1"/>
<path d="M227.6,315.6L230.8,318.8M227.6,318.8L230.8,315.6" stroke="#1f77c4" stroke-width="0.9"/>
<line x1="221.5" y1="326.3" x2="236" y2="326.3" stroke="#e0622a" stroke-width="1"/>
<path d="M227.6,324.7L230.8,327.9M227.6,327.9L230.8,324.7" stroke="#e0622a" stroke-width="0.9"/>
<text x="237.8" y="319.6" font-size="7" font-family="Liberation Sans, sans-serif" fill="#222" textLength="45" lengthAdjust="spacingAndGlyphs">Acheulean BIC</text>
<text x="237.8" y="328.7" font-size="7" font-family="Liberation Sans, sans-serif" fill="#222" textLength="38.5" lengthAdjust="spacingAndGlyphs">Oldowan BIC</text>
<line x1="313.6" y1="306.3" x2="313.6" y2="529" stroke="#d8452f" stroke-width="1.5"/>
<path d="M311.7,527.5 L315.5,527.5 L313.6,536.2 Z" fill="#d8452f"/>
<text transform="translate(317.6,443.5) rotate(90)" font-size="9.1" font-family="Liberation Sans, sans-serif" fill="#d8452f" stroke="#d8452f" stroke-width="0.25" textLength="64" lengthAdjust="spacingAndGlyphs">Lower is better</text>
<text x="359.9" y="324.2" font-size="16.2" font-family="Liberation Sans, sans-serif" fill="#111" stroke="#111" stroke-width="0.3" textLength="10" lengthAdjust="spacingAndGlyphs">C</text>
<rect x="451.3" y="311.0" width="119.49999999999994" height="223.39999999999998" fill="#d0e98a"/>
<rect x="570.8" y="311.0" width="105.10000000000002" height="223.39999999999998" fill="#a4abe8"/>
<line x1="451.3" y1="311.0" x2="451.3" y2="534.4" stroke="#777" stroke-width="0.8"/>
<line x1="451.3" y1="311.0" x2="675.9" y2="311.0" stroke="#777" stroke-width="0.8"/>
<rect x="454.80" y="311.0" width="3.5" height="5.0" fill="#2e2a84" stroke="#1a1850" stroke-width="0.4"/>
<rect x="458.40" y="311.0" width="3.3" height="8.0" fill="#f5f000" stroke="#444" stroke-width="0.5"/>
<rect x="467.98" y="311.0" width="3.5" height="12.8" fill="#2e2a84" stroke="#1a1850" stroke-width="0.4"/>
<rect x="471.58" y="311.0" width="3.3" height="14.6" fill="#f5f000" stroke="#444" stroke-width="0.5"/>
<rect x="481.16" y="311.0" width="3.5" height="19.8" fill="#2e2a84" stroke="#1a1850" stroke-width="0.4"/>
<rect x="484.76" y="311.0" width="3.3" height="25.1" fill="#f5f000" stroke="#444" stroke-width="0.5"/>
<rect x="494.34" y="311.0" width="3.5" height="29.9" fill="#2e2a84" stroke="#1a1850" stroke-width="0.4"/>
<rect x="497.94" y="311.0" width="3.3" height="35.0" fill="#f5f000" stroke="#444" stroke-width="0.5"/>
<rect x="507.52" y="311.0" width="3.5" height="12.8" fill="#2e2a84" stroke="#1a1850" stroke-width="0.4"/>
<rect x="511.12" y="311.0" width="3.3" height="15.2" fill="#f5f000" stroke="#444" stroke-width="0.5"/>
<rect x="520.70" y="311.0" width="3.5" height="29.9" fill="#2e2a84" stroke="#1a1850" stroke-width="0.4"/>
<rect x="524.30" y="311.0" width="3.3" height="34.4" fill="#f5f000" stroke="#444" stroke-width="0.5"/>
<rect x="533.88" y="311.0" width="3.5" height="16.6" fill="#2e2a84" stroke="#1a1850" stroke-width="0.4"/>
<rect x="537.48" y="311.0" width="3.3" height="20.4" fill="#f5f000" stroke="#444" stroke-width="0.5"/>
<rect x="547.06" y="311.0" width="3.5" height="19.2" fill="#2e2a84" stroke="#1a1850" stroke-width="0.4"/>
<rect x="550.66" y="311.0" width="3.3" height="21.1" fill="#f5f000" stroke="#444" stroke-width="0.5"/>
<rect x="560.24" y="311.0" width="3.5" height="13.5" fill="#2e2a84" stroke="#1a1850" stroke-width="0.4"/>
<rect x="563.84" y="311.0" width="3.3" height="18.5" fill="#f5f000" stroke="#444" stroke-width="0.5"/>
<rect x="573.42" y="311.0" width="3.5" height="189.4" fill="#2e2a84" stroke="#1a1850" stroke-width="0.4"/>
<rect x="577.02" y="311.0" width="3.3" height="130.2" fill="#f5f000" stroke="#444" stroke-width="0.5"/>
<rect x="586.60" y="311.0" width="3.5" height="105.0" fill="#2e2a84" stroke="#1a1850" stroke-width="0.4"/>
<rect x="590.20" y="311.0" width="3.3" height="72.4" fill="#f5f000" stroke="#444" stroke-width="0.5"/>
<rect x="599.78" y="311.0" width="3.5" height="162.3" fill="#2e2a84" stroke="#1a1850" stroke-width="0.4"/>
<rect x="603.38" y="311.0" width="3.3" height="105.0" fill="#f5f000" stroke="#444" stroke-width="0.5"/>
<rect x="612.96" y="311.0" width="3.5" height="165.7" fill="#2e2a84" stroke="#1a1850" stroke-width="0.4"/>
<rect x="616.56" y="311.0" width="3.3" height="102.7" fill="#f5f000" stroke="#444" stroke-width="0.5"/>
<rect x="626.14" y="311.0" width="3.5" height="120.6" fill="#2e2a84" stroke="#1a1850" stroke-width="0.4"/>
<rect x="629.74" y="311.0" width="3.3" height="75.8" fill="#f5f000" stroke="#444" stroke-width="0.5"/>
<rect x="639.32" y="311.0" width="3.5" height="121.8" fill="#2e2a84" stroke="#1a1850" stroke-width="0.4"/>
<rect x="642.92" y="311.0" width="3.3" height="73.9" fill="#f5f000" stroke="#444" stroke-width="0.5"/>
<rect x="652.50" y="311.0" width="3.5" height="120.1" fill="#2e2a84" stroke="#1a1850" stroke-width="0.4"/>
<rect x="656.10" y="311.0" width="3.3" height="81.5" fill="#f5f000" stroke="#444" stroke-width="0.5"/>
<rect x="665.68" y="311.0" width="3.5" height="210.6" fill="#2e2a84" stroke="#1a1850" stroke-width="0.4"/>
<rect x="669.28" y="311.0" width="3.3" height="111.4" fill="#f5f000" stroke="#444" stroke-width="0.5"/>
<text x="448" y="314.6" font-size="10.2" font-family="Liberation Sans, sans-serif" fill="#222" text-anchor="end">0</text>
<text x="448" y="370.5" font-size="10.2" font-family="Liberation Sans, sans-serif" fill="#222" text-anchor="end">-500</text>
<text x="448" y="426.3" font-size="10.2" font-family="Liberation Sans, sans-serif" fill="#222" text-anchor="end">-1000</text>
<text x="448" y="482.1" font-size="10.2" font-family="Liberation Sans, sans-serif" fill="#222" text-anchor="end">-1500</text>
<text x="448" y="538.0" font-size="10.2" font-family="Liberation Sans, sans-serif" fill="#222" text-anchor="end">-2000</text>
<text x="458.5" y="548.2" font-size="10" font-family="Liberation Sans, sans-serif" fill="#444" text-anchor="middle">1</text>
<text x="471.7" y="548.2" font-size="10" font-family="Liberation Sans, sans-serif" fill="#444" text-anchor="middle">2</text>
<text x="484.9" y="548.2" font-size="10" font-family="Liberation Sans, sans-serif" fill="#444" text-anchor="middle">3</text>
<text x="498.0" y="548.2" font-size="10" font-family="Liberation Sans, sans-serif" fill="#444" text-anchor="middle">4</text>
<text x="511.2" y="548.2" font-size="10" font-family="Liberation Sans, sans-serif" fill="#444" text-anchor="middle">5</text>
<text x="524.4" y="548.2" font-size="10" font-family="Liberation Sans, sans-serif" fill="#444" text-anchor="middle">6</text>
<text x="537.6" y="548.2" font-size="10" font-family="Liberation Sans, sans-serif" fill="#444" text-anchor="middle">7</text>
<text x="550.8" y="548.2" font-size="10" font-family="Liberation Sans, sans-serif" fill="#444" text-anchor="middle">8</text>
<text x="563.9" y="548.2" font-size="10" font-family="Liberation Sans, sans-serif" fill="#444" text-anchor="middle">9</text>
<text x="577.1" y="548.2" font-size="10" font-family="Liberation Sans, sans-serif" fill="#444" text-anchor="middle">1</text>
<text x="590.3" y="548.2" font-size="10" font-family="Liberation Sans, sans-serif" fill="#444" text-anchor="middle">2</text>
<text x="603.5" y="548.2" font-size="10" font-family="Liberation Sans, sans-serif" fill="#444" text-anchor="middle">3</text>
<text x="616.7" y="548.2" font-size="10" font-family="Liberation Sans, sans-serif" fill="#444" text-anchor="middle">4</text>
<text x="629.8" y="548.2" font-size="10" font-family="Liberation Sans, sans-serif" fill="#444" text-anchor="middle">5</text>
<text x="643.0" y="548.2" font-size="10" font-family="Liberation Sans, sans-serif" fill="#444" text-anchor="middle">6</text>
<text x="656.2" y="548.2" font-size="10" font-family="Liberation Sans, sans-serif" fill="#444" text-anchor="middle">7</text>
<text x="669.4" y="548.2" font-size="10" font-family="Liberation Sans, sans-serif" fill="#444" text-anchor="middle">8</text>
<text x="511.2" y="497.8" font-size="12" font-family="Liberation Sans, sans-serif" fill="#222" text-anchor="middle">Oldowan</text>
<text x="511.2" y="513.3" font-size="12" font-family="Liberation Sans, sans-serif" fill="#222" text-anchor="middle">Sequences</text>
<text x="623.5" y="497.8" font-size="12" font-family="Liberation Sans, sans-serif" fill="#222" text-anchor="middle">Acheulean</text>
<text x="623.5" y="513.3" font-size="12" font-family="Liberation Sans, sans-serif" fill="#222" text-anchor="middle">Sequences</text>
<text transform="translate(417.6,460.3) rotate(-90)" font-size="11.9" font-family="Liberation Sans, sans-serif" fill="#222">Log-Likelihood</text>
<text transform="translate(381.6,417.2) rotate(-90)" font-size="9.3" font-family="Liberation Sans, sans-serif" fill="#111" stroke="#111" stroke-width="0.25" textLength="66.3" lengthAdjust="spacingAndGlyphs">Higher is better</text>
<line x1="386.5" y1="313" x2="386.5" y2="540.3" stroke="#000" stroke-width="1.6"/>
<path d="M384.6,317.5 L388.4,317.5 L386.5,307.8 Z" fill="#000"/>
<rect x="412.6" y="287.4" width="261.6" height="14.2" fill="#fff" stroke="#888" stroke-width="0.8"/>
<rect x="416.2" y="290.2" width="18.4" height="8.2" fill="#2e2a84" stroke="#222" stroke-width="0.4"/>
<text x="436.7" y="298.1" font-size="8.8" font-family="Liberation Sans, sans-serif" fill="#222" textLength="102" lengthAdjust="spacingAndGlyphs">Oldowan Model (4 States)</text>
<rect x="542.4" y="290.2" width="18.4" height="8.2" fill="#f5f000" stroke="#444" stroke-width="0.4"/>
<text x="562.7" y="298.1" font-size="8.8" font-family="Liberation Sans, sans-serif" fill="#222" textLength="109.3" lengthAdjust="spacingAndGlyphs">Acheulean Model (6 States)</text></svg>
</body></html>
